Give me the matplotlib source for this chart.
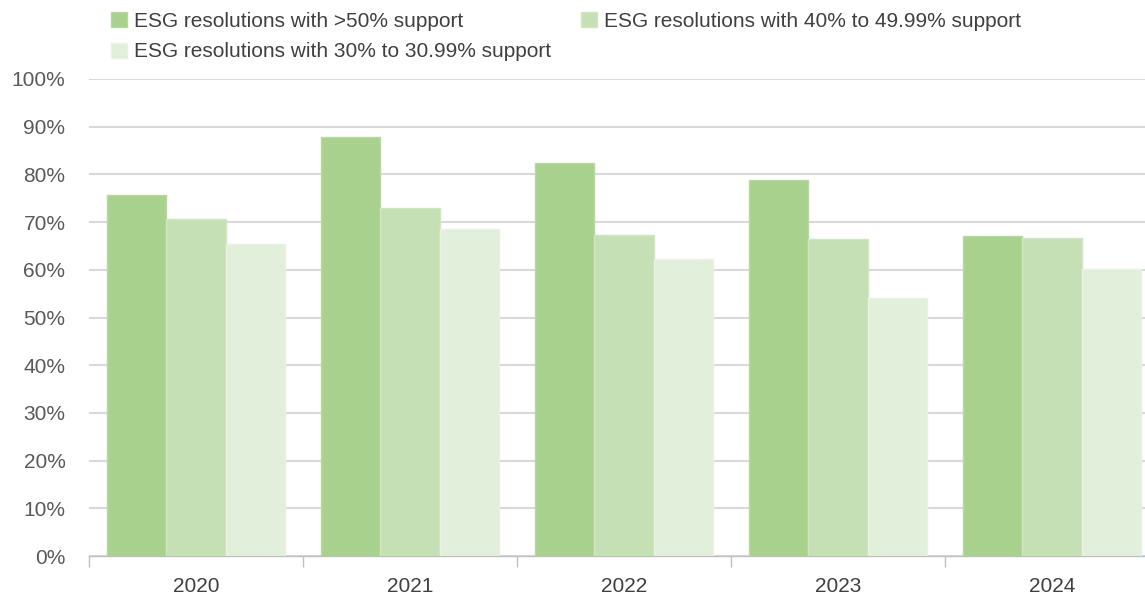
import matplotlib
matplotlib.use("Agg")
import matplotlib.pyplot as plt
from matplotlib.patches import Patch
import numpy as np

years = ["2020", "2021", "2022", "2023", "2024"]
series_names = [
    "ESG resolutions with >50% support",
    "ESG resolutions with 40% to 49.99% support",
    "ESG resolutions with 30% to 30.99% support",
]
above_50 = [75.7, 87.8, 82.4, 78.8, 67.1]
from_40_to_50 = [70.6, 73.0, 67.3, 66.5, 66.7]
from_30_to_40 = [65.4, 68.6, 62.3, 54.1, 60.2]
y_ticks = [0, 10, 20, 30, 40, 50, 60, 70, 80, 90, 100]

colors = ["#a9d18e", "#c5e0b4", "#e2efda"]
edge_colors = ["#b6d9a0", "#d0e6c1", "#e9f3e3"]

plt.rcParams['font.family'] = ['Liberation Sans', 'DejaVu Sans']

W, H = 1145, 596
fig = plt.figure(figsize=(W / 100, H / 100), dpi=100)
ax = fig.add_axes([89 / W, 40 / H, 1070 / W, 477 / H])

x = np.arange(len(years))
bw = 0.276
data = [above_50, from_40_to_50, from_30_to_40]
for i, (vals, c, ec) in enumerate(zip(data, colors, edge_colors)):
    ax.bar(x + (i - 1) * bw, vals, width=bw, color=c, edgecolor=ec,
           linewidth=1.0, zorder=3, label=series_names[i])

ax.set_xlim(-0.5, len(years) - 0.5)
ax.set_ylim(0, 100)
ax.set_yticks(y_ticks)
ax.set_yticklabels([f"{v}%" for v in y_ticks])
ax.yaxis.grid(True, color="#d9d9d9", linewidth=1.5, zorder=0)
ax.set_axisbelow(True)
for s in ["top", "right", "left"]:
    ax.spines[s].set_visible(False)
ax.spines["bottom"].set_color("#bfbfbf")
ax.spines["bottom"].set_linewidth(1.0)

ax.tick_params(axis="y", length=0, pad=17, labelsize=15, labelcolor="#595959")
ax.set_xticks(x)
ax.set_xticklabels(years)
ax.tick_params(axis="x", which="major", length=0, pad=15, labelsize=15, labelcolor="#404040")
ax.set_xticks(np.arange(len(years) + 1) - 0.5, minor=True)
ax.tick_params(axis="x", which="minor", length=8, color="#bfbfbf", width=1.0)

handles = [Patch(facecolor=colors[0], edgecolor=edge_colors[0]),
           Patch(facecolor=colors[2], edgecolor=edge_colors[2]),
           Patch(facecolor=colors[1], edgecolor=edge_colors[1])]
labels = [series_names[0], series_names[2], series_names[1]]
fig.legend(handles, labels, loc="upper left", bbox_to_anchor=(111 / W, 1 - 12 / H),
           ncol=2, frameon=False, fontsize=15, handlelength=0.75, handleheight=0.75,
           handletextpad=0.35, columnspacing=1.45, labelspacing=0.55,
           labelcolor="#404040", borderaxespad=0, borderpad=0)

fig.savefig("out.png", dpi=100)
